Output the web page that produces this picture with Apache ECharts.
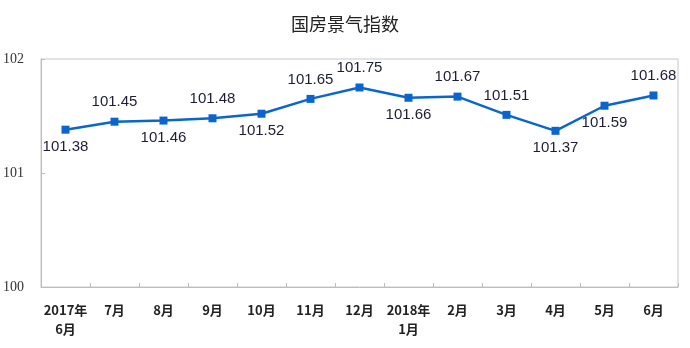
<!DOCTYPE html>
<html>
<head>
<meta charset="utf-8">
<script src="https://cdn.jsdelivr.net/npm/echarts@6/dist/echarts.min.js"></script>
<style>
  html, body { margin: 0; padding: 0; background: #fff; }
  #chart { width: 690px; height: 348px; }
</style>
</head>
<body>
<div id="chart"></div>
<script>
// Monthly national real-estate climate index, June 2017 – June 2018
const months = ['2017年\n6月', '7月', '8月', '9月', '10月', '11月', '12月',
                '2018年\n1月', '2月', '3月', '4月', '5月', '6月'];
const indexValues = [101.38, 101.45, 101.46, 101.48, 101.52, 101.65, 101.75,
                     101.66, 101.67, 101.51, 101.37, 101.59, 101.68];
const yTicks = [100, 101, 102];

// which side of each point its value label sits on
const labelSide = ['bottom', 'top', 'bottom', 'top', 'bottom', 'top', 'top',
                   'bottom', 'top', 'top', 'bottom', 'bottom', 'top'];

const chart = echarts.init(document.getElementById('chart'));

const seriesData = indexValues.map((v, i) => ({
  value: v,
  label: { position: labelSide[i], distance: labelSide[i] === 'top' ? 8 : 6 }
}));

chart.setOption({
  animation: false,
  backgroundColor: '#ffffff',
  title: {
    text: '国房景气指数',
    left: 'center',
    top: 10,
    textStyle: {
      fontFamily: 'Noto Sans CJK SC',
      fontSize: 18,
      fontWeight: 'normal',
      color: '#222'
    }
  },
  grid: {
    left: 41, right: 12, top: 59, bottom: 61,
    outerBoundsMode: 'none',
    containLabel: false,
    show: true,
    borderColor: '#c8c8c8',
    borderWidth: 1
  },
  xAxis: {
    type: 'category',
    data: months,
    boundaryGap: true,
    axisLine: { lineStyle: { color: '#bdbdbd', width: 1 } },
    axisTick: { show: true, inside: true, length: 4, alignWithLabel: false,
                lineStyle: { color: '#bdbdbd' } },
    axisLabel: {
      interval: 0,
      margin: 14,
      fontFamily: 'Noto Sans CJK SC',
      fontSize: 13,
      fontWeight: 'bold',
      lineHeight: 19,
      color: '#222'
    }
  },
  yAxis: {
    type: 'value',
    min: yTicks[0],
    max: yTicks[yTicks.length - 1],
    interval: 1,
    axisLine: { show: true, lineStyle: { color: '#bdbdbd', width: 1 } },
    axisTick: { show: true, inside: true, length: 4, lineStyle: { color: '#bdbdbd' } },
    splitLine: { show: false },
    axisLabel: {
      margin: 38,
      align: 'left',
      fontFamily: 'Liberation Serif',
      fontSize: 14,
      color: '#333'
    }
  },
  series: [{
    type: 'line',
    data: seriesData,
    symbol: 'rect',
    symbolSize: 8,
    showAllSymbol: true,
    lineStyle: { color: '#0a66cc', width: 2.5 },
    itemStyle: { color: '#0a66cc' },
    label: {
      show: true,
      fontFamily: 'Liberation Sans',
      fontSize: 15,
      color: '#1c1c34',
      formatter: p => p.value.toFixed(2)
    }
  }]
});
</script>
</body>
</html>
